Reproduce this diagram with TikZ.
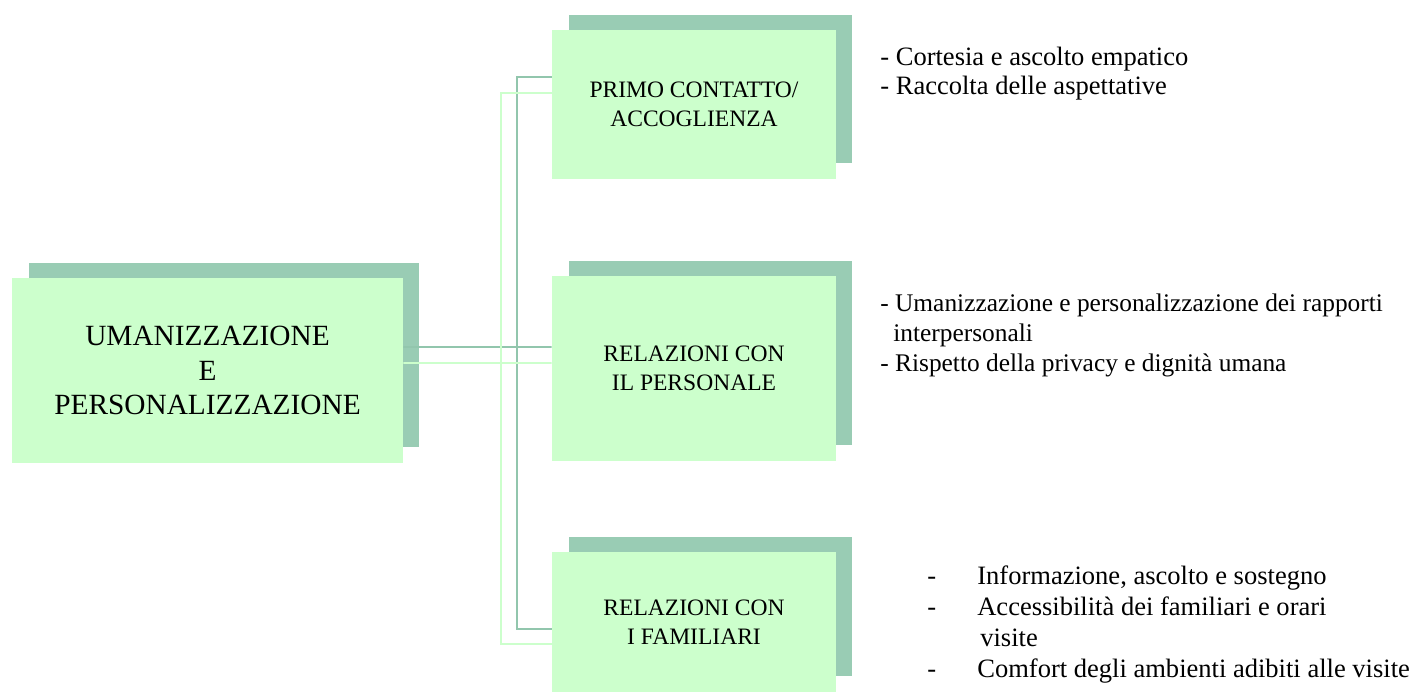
\documentclass[tikz,border=0pt]{standalone}
\usepackage{fontspec}
\setmainfont{Liberation Serif}
\usetikzlibrary{shadows}
\definecolor{boxgreen}{HTML}{CCFFCC}
\definecolor{shadegreen}{HTML}{99CCB4}
\definecolor{linkgreen}{HTML}{92C6AD}

\begin{document}
\begin{tikzpicture}[x=0.02cm,y=-0.02cm,
  main node/.style={rectangle,fill=boxgreen,align=center,inner sep=0pt,minimum width=5.68cm,
    drop shadow={shadow xshift=0.33cm,shadow yshift=0.31cm,fill=shadegreen,opacity=1},
    font=\fontsize{13.4}{16.5}\selectfont},
  list node/.style={anchor=base west,align=left,inner sep=0pt,font=\fontsize{15.1}{16.5}\selectfont},
  darklink/.style={draw=linkgreen,line width=1.1pt},
  lightlink/.style={draw=boxgreen,line width=1.1pt}]

  \useasboundingbox (0,0) rectangle (1411,693);

  \node[main node,minimum width=7.82cm,minimum height=3.7cm,font=\fontsize{16.7}{19.6}\selectfont]
    (root) at (207.5,370.5) {UMANIZZAZIONE\\E\\PERSONALIZZAZIONE};
  \node[main node,minimum height=2.98cm] (b1) at (694,104.5) {PRIMO CONTATTO/\\ACCOGLIENZA};
  \node[main node,minimum height=3.7cm] (b2) at (694,368.5) {RELAZIONI CON\\IL PERSONALE};
  \node[main node,minimum height=2.8cm] (b3) at (694,622) {RELAZIONI CON\\I FAMILIARI};

  \coordinate (darkfork) at (517,347);
  \coordinate (lightfork) at (501,363);

  \draw[darklink] ([yshift=.47cm]root.east) -- ([yshift=.43cm]b2.west);
  \draw[darklink] ([yshift=.55cm]b1.west) -| (darkfork) |- ([yshift=-.14cm]b3.west);
  \draw[lightlink] ([yshift=.15cm]root.east) -- ([yshift=.11cm]b2.west);
  \draw[lightlink] ([yshift=.23cm]b1.west) -| (lightfork) |- ([yshift=-.44cm]b3.west);

  % base anchor sits on the last line
  \node[list node] (l1) at (880,94) {- Cortesia e ascolto empatico\\- Raccolta delle aspettative};
  \node[list node,font=\fontsize{14.45}{16.8}\selectfont] (l2) at (880,371)
    {- Umanizzazione e personalizzazione dei rapporti\\
    \hspace*{0.26cm}interpersonali\\- Rispetto della privacy e dignità umana};
  \node[list node,font=\fontsize{15.1}{17.5}\selectfont] (l3) at (927,677)
    {\makebox[1cm][l]{-}Informazione, ascolto e sostegno\\
     \makebox[1cm][l]{-}Accessibilità dei familiari e orari\\
     \hspace*{1.06cm}visite\\
     \makebox[1cm][l]{-}Comfort degli ambienti adibiti alle visite};
\end{tikzpicture}
\end{document}
